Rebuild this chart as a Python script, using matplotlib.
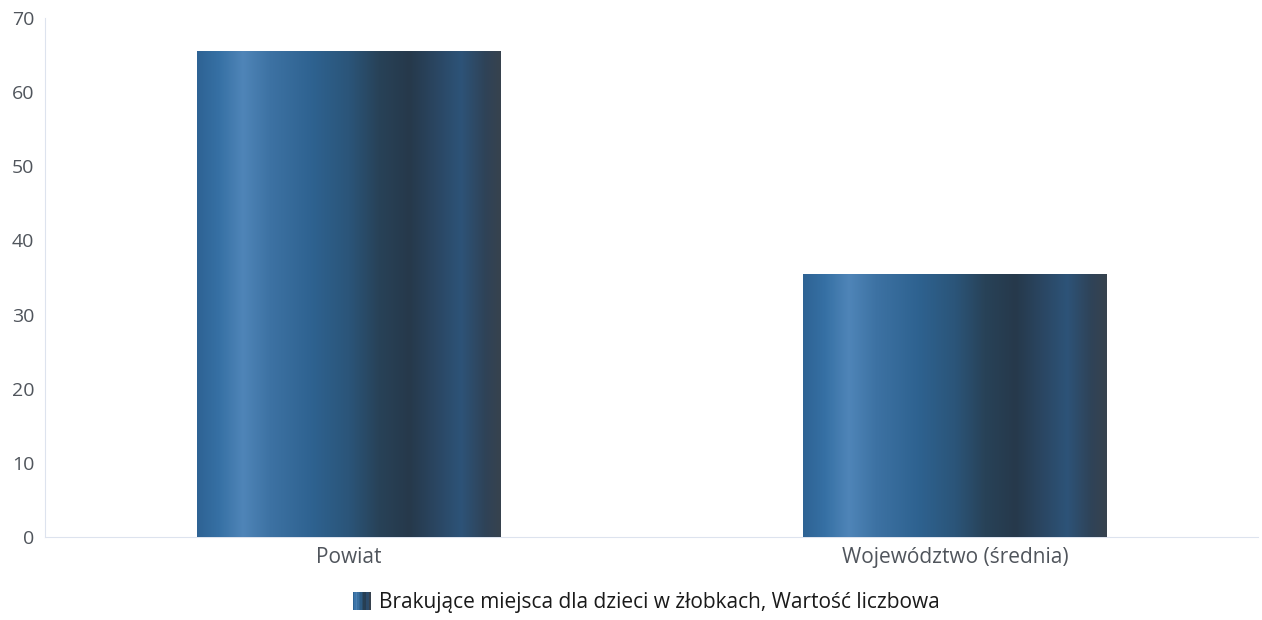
import numpy as np
import matplotlib
matplotlib.use("Agg")
import matplotlib.pyplot as plt
from matplotlib.colors import LinearSegmentedColormap
from matplotlib.legend_handler import HandlerBase
from matplotlib.patches import Rectangle

plt.rcParams['font.family'] = ['Open Sans', 'DejaVu Sans']

categories = ["Powiat", "Województwo (średnia)"]
values = [65.5, 35.5]
series_name = "Brakujące miejsca dla dzieci w żłobkach, Wartość liczbowa"
yticks = [0, 10, 20, 30, 40, 50, 60, 70]

# shading across the bar width (cylinder look)
stops = [
    (0.00, "#2e6394"), (0.07, "#3670a4"), (0.15, "#4f85b8"), (0.24, "#3d72a3"),
    (0.38, "#2e6290"), (0.50, "#2b5579"), (0.60, "#284258"), (0.70, "#26394b"),
    (0.78, "#2a4560"), (0.87, "#2d5378"), (0.95, "#2f4358"), (1.00, "#37424e"),
]
bar_cmap = LinearSegmentedColormap.from_list("barshade", stops)
grad = np.linspace(0, 1, 256).reshape(1, -1)


class GradientHandler(HandlerBase):
    def create_artists(self, legend, orig_handle, xdescent, ydescent,
                       width, height, fontsize, trans):
        n = 12
        side = height * 1.25
        arts = []
        for i in range(n):
            r = Rectangle((xdescent + width - side + i * side / n, ydescent - 0.18 * height),
                          side / n + 0.2, side, facecolor=bar_cmap(i / (n - 1)),
                          edgecolor="none", transform=trans)
            arts.append(r)
        return arts


fig = plt.figure(figsize=(12.62, 6.2), dpi=100)
ax = fig.add_axes([0.036, 0.134, 0.961, 0.837])

x = np.arange(len(categories))
bars = ax.bar(x, values, width=0.5, color="#2b5d87", zorder=2)
for b in bars:
    x0, w, h = b.get_x(), b.get_width(), b.get_height()
    im = ax.imshow(grad, cmap=bar_cmap, aspect="auto",
                   extent=(x0, x0 + w, 0, h), zorder=3)
    im.set_clip_path(b)

ax.set_xlim(-0.5, 1.5)
ax.set_ylim(0, 70)
ax.set_yticks(yticks)
ax.set_xticks(x)
ax.set_xticklabels(categories)
ax.tick_params(axis="y", length=0, labelsize=14, labelcolor="#50555c", pad=8)
ax.tick_params(axis="x", length=0, labelsize=15, labelcolor="#50555c", pad=7)

for s in ["top", "right"]:
    ax.spines[s].set_visible(False)
ax.spines["left"].set_color("#dde3ee")
ax.spines["bottom"].set_color("#dde3ee")

handle = Rectangle((0, 0), 1, 1)
leg = fig.legend([handle], [series_name], handler_map={Rectangle: GradientHandler()},
                 loc="center", bbox_to_anchor=(0.511, 0.029), frameon=False,
                 fontsize=15, handlelength=1.0, handletextpad=0.4)
for t in leg.get_texts():
    t.set_color("#1a1a1a")

fig.savefig("out.png", dpi=100)
